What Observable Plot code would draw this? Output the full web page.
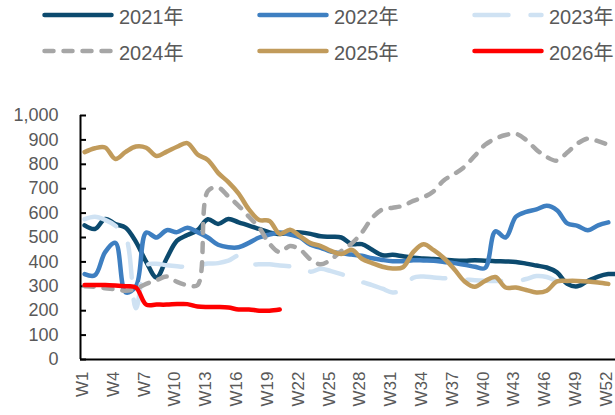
<!DOCTYPE html>
<html>
<head>
<meta charset="utf-8">
<script src="https://cdn.jsdelivr.net/npm/d3@7"></script>
<script src="https://cdn.jsdelivr.net/npm/@observablehq/plot@0.6"></script>
<style>
  html, body { margin: 0; padding: 0; background: #fff; }
  body { width: 615px; font-family: "Liberation Sans", Arial, "Noto Sans CJK SC", sans-serif; }
  #legend { position: relative; width: 615px; height: 68px; }
  .item { position: absolute; display: flex; align-items: center; height: 24px; color: #595959; font-size: 20px; }
  .item svg { display: block; margin-right: 5px; }
  #chart svg { display: block; }
</style>
</head>
<body>
<div id="legend"></div>
<div id="chart"></div>
<script>
// ---- data ----
const seriesNames = ["2021年", "2022年", "2023年", "2024年", "2025年", "2026年"];
const seriesColors = ["#0c4a6e", "#3e7fc1", "#cfe2f3", "#a6a6a6", "#c19b5b", "#ff0000"];
const seriesDash = [null, null, "34,22", "9,10", null, null];

const xTickLabels = ["W1","W4","W7","W10","W13","W16","W19","W22","W25","W28","W31","W34","W37","W40","W43","W46","W49","W52"];
const yTicks = [0,100,200,300,400,500,600,700,800,900,1000];

const s2021 = [550,535,576,555,540,482,400,336,415,487,510,530,575,555,576,562,549,535,521,514,520,521,515,505,503,500,473,473,450,427,429,423,417,414,412,409,406,405,407,405,403,402,400,393,385,377,357,310,300,322,340,350,350];
const s2022 = [350,345,440,478,275,300,520,500,530,522,540,522,500,470,460,460,478,500,512,520,512,500,470,458,442,435,430,425,415,408,403,403,407,406,405,400,395,388,380,375,525,500,585,605,615,630,612,558,548,530,550,562];
const s2023 = [575,585,572,548,505,210,385,392,386,382,380,385,393,395,405,425,392,390,390,385,382,380,360,372,362,350,336,318,305,290,275,285,335,340,336,333,330,328,325,323,322,322,320,330,342,338,320,305];
const s2024 = [300,298,292,288,282,290,310,325,340,318,305,305,690,705,668,630,585,540,475,440,465,450,410,390,410,445,475,520,580,615,622,630,650,665,690,735,760,790,835,880,905,920,925,900,860,830,815,848,885,905,895,880];
const s2025 = [850,866,869,822,851,873,868,834,852,872,887,840,818,765,727,680,615,572,568,515,532,505,477,465,445,432,450,413,395,380,373,378,440,472,448,415,370,320,298,322,338,295,295,285,275,282,320,322,322,320,316,310];
const s2026 = [305,305,305,303,300,295,225,225,225,227,227,217,215,215,213,205,205,200,200,205];

const allSeries = [s2021, s2022, s2023, s2024, s2025, s2026];
const xDomain = [0.6, 52.7];
const xTicks = xTickLabels.map(s => +s.slice(1));

// ---- legend (HTML, above the SVG) ----
const legend = document.getElementById("legend");
const colStart = [42, 257, 472];
const rowTop = [3, 39];
seriesNames.forEach((name, i) => {
  const div = document.createElement("div");
  div.className = "item";
  div.style.left = colStart[i % 3] + "px";
  div.style.top = rowTop[Math.floor(i / 3)] + "px";
  const dash = seriesDash[i] ? `stroke-dasharray="${seriesDash[i]}"` : "";
  div.innerHTML = `<svg width="72" height="10"><line x1="2.5" y1="5" x2="69.5" y2="5" stroke="${seriesColors[i]}" stroke-width="4.5" stroke-linecap="round" ${dash}/></svg><span>${name}</span>`;
  legend.appendChild(div);
});

// ---- chart ----
const lineMarks = allSeries.map((vals, i) => {
  const data = vals.map((v, k) => ({week: k + 1, value: v}));
  return Plot.line(data, {
    x: "week", y: "value",
    stroke: seriesColors[i], strokeWidth: 4.5,
    strokeLinecap: "round", strokeLinejoin: "round",
    strokeDasharray: seriesDash[i] || undefined,
    curve: "catmull-rom",
    clip: true
  });
});

const chart = Plot.plot({
  width: 615,
  height: 347,
  marginLeft: 80,
  marginRight: 0,
  marginTop: 47,
  marginBottom: 56,
  x: {type: "linear", domain: xDomain},
  y: {domain: [0, 1000]},
  style: {fontFamily: '"Liberation Sans", Arial, sans-serif', fontSize: "17px", color: "#595959", background: "#fff", overflow: "visible"},
  marks: [
    Plot.axisY(yTicks, {tickSize: 0, tickPadding: 22, tickFormat: d3.format(","), label: null, fill: "#595959", fontSize: 18}),
    Plot.axisY(yTicks, {tickSize: 6, dx: 6, tickFormat: () => "", label: null, stroke: "#000", strokeWidth: 2}),
    Plot.axisX(xTicks, {tickSize: 0, tickPadding: 12, tickRotate: -90, dx: -2, tickFormat: d => xTickLabels[xTicks.indexOf(d)], label: null, fill: "#595959", fontSize: 17}),
    ...lineMarks,
    Plot.ruleX([xDomain[0]], {stroke: "#000", strokeWidth: 2}),
    Plot.ruleY([0], {stroke: "#000", strokeWidth: 2})
  ]
});
document.getElementById("chart").appendChild(chart);
</script>
</body>
</html>
